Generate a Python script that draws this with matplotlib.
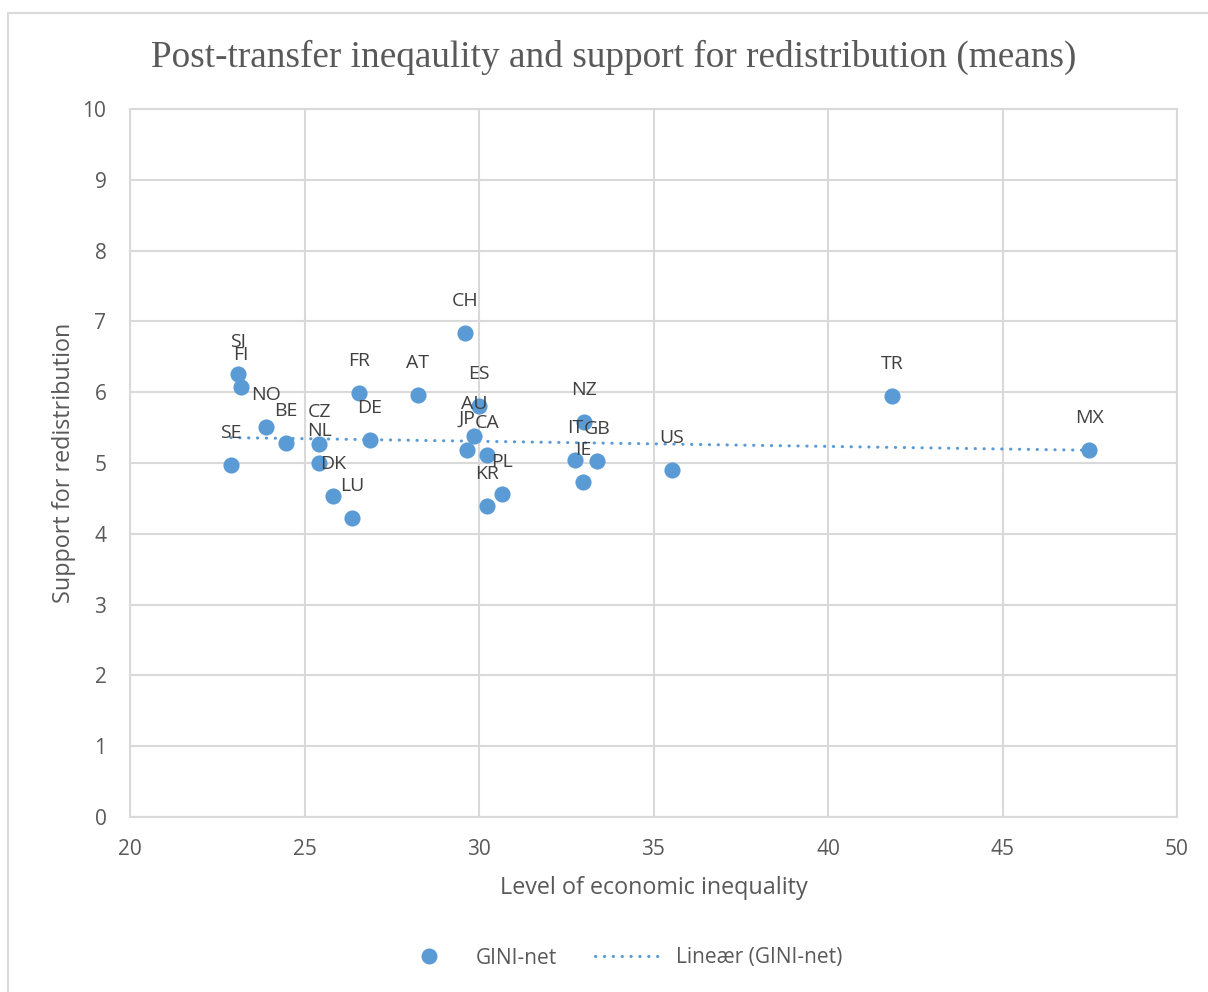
import numpy as np
import matplotlib.pyplot as plt
from matplotlib.patches import Rectangle
from matplotlib.lines import Line2D

# country means: net GINI vs. support for redistribution
countries = ["SE", "SI", "FI", "NO", "BE", "CZ", "NL", "DK", "LU", "FR", "DE",
             "AT", "CH", "ES", "AU", "JP", "CA", "PL", "KR", "NZ", "IT", "GB",
             "IE", "US", "TR", "MX"]
gini_net = [22.89, 23.09, 23.18, 23.90, 24.47, 25.42, 25.42, 25.82, 26.36, 26.56, 26.88,
            28.25, 29.60, 30.00, 29.86, 29.66, 30.23, 30.66, 30.23, 33.01, 32.75, 33.38,
            32.98, 35.53, 41.83, 47.48]
support = [4.97, 6.26, 6.07, 5.51, 5.28, 5.27, 5.00, 4.53, 4.22, 5.99, 5.32,
           5.96, 6.84, 5.81, 5.38, 5.18, 5.11, 4.56, 4.39, 5.58, 5.04, 5.03,
           4.73, 4.90, 5.95, 5.18]

blue = "#5b9bd5"
grid_col = "#d9d9d9"
txt = "#595959"

plt.rcParams['font.family'] = ['Open Sans', 'DejaVu Sans']

W, H = 1208, 992
fig = plt.figure(figsize=(W / 100, H / 100), dpi=100)
ax = fig.add_axes([130 / W, 1 - 817 / H, (1177 - 130) / W, (817 - 109) / H])

# outer chart frame
fig.add_artist(Rectangle((8 / W, -0.1), 1.2, (H - 13) / H + 0.1,
                         transform=fig.transFigure, fill=False,
                         ec=grid_col, lw=1.5))

ax.set_xlim(20, 50)
ax.set_ylim(0, 10)
ax.set_xticks(np.arange(20, 51, 5))
ax.set_yticks(np.arange(0, 11, 1))
ax.grid(True, color=grid_col, lw=1.5)
ax.set_axisbelow(True)
for s in ax.spines.values():
    s.set_color(grid_col)
    s.set_linewidth(1.5)
ax.tick_params(length=0, labelsize=15, labelcolor=txt)
ax.tick_params(axis='x', pad=16)
ax.tick_params(axis='y', pad=17)

ax.scatter(gini_net, support, s=135, color=blue, zorder=3, linewidths=0)

for c, x, y in zip(countries, gini_net, support):
    ax.annotate(c, (x, y), xytext=(0, 23), textcoords='offset points',
                ha='center', va='center', fontsize=14, color="#404040", zorder=4)

# linear trendline over the data range
k, b = np.polyfit(gini_net, support, 1)
xs = np.array([min(gini_net), max(gini_net)])
ax.plot(xs, k * xs + b, color=blue, lw=2.2, linestyle=(0, (0.1, 2.8)),
        dash_capstyle='round', zorder=2)

ax.set_xlabel("Level of economic inequality", fontsize=16.8, color=txt, labelpad=11)
ax.set_ylabel("Support for redistribution", fontsize=16.8, color=txt, labelpad=5)

fig.text(0.508, 1 - 57 / H, "Post-transfer ineqaulity and support for redistribution (means)",
         ha='center', va='center', fontsize=26.8, color=txt,
         family=['Liberation Serif', 'DejaVu Serif'])

handles = [
    Line2D([], [], marker='o', ls='none', color=blue, markersize=11.5, mew=0),
    Line2D([], [], color=blue, lw=2.2, linestyle=(0, (0.1, 2.8)), dash_capstyle='round'),
]
fig.legend(handles, ["GINI-net", "Lineær (GINI-net)"], loc='center',
           bbox_to_anchor=(0.512, 1 - 958 / H), ncol=2, frameon=False,
           fontsize=15, labelcolor=txt, handlelength=3.3, columnspacing=1.8,
           handletextpad=0.6)

fig.savefig("out.png", dpi=100)
